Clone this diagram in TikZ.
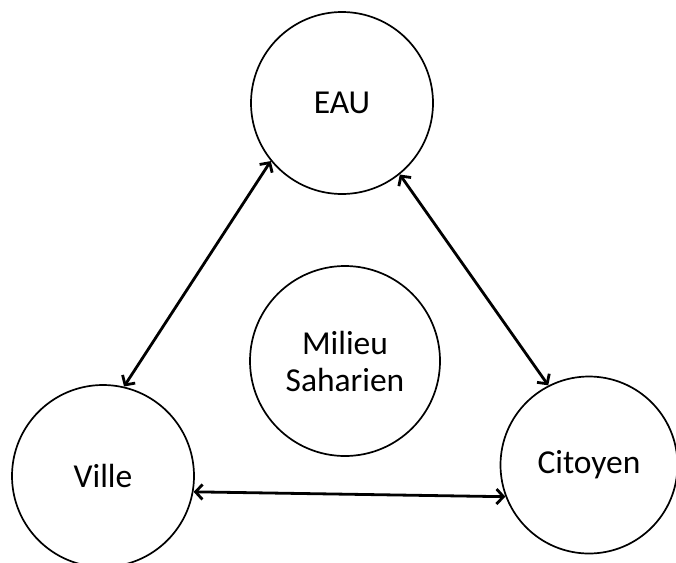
\documentclass[tikz,border=0pt]{standalone}
\usepackage{fontspec}
\setmainfont{Carlito}
\usetikzlibrary{arrows.meta}
\begin{document}
\begin{tikzpicture}[x=1pt,y=-1pt,
  bubble/.style={draw=black,circle,line width=1.7pt,inner sep=0pt,outer sep=0pt,
    align=center,font=\fontsize{33.5}{37}\selectfont},
  link/.style={line width=2.8pt,{Straight Barb[length=7pt,width=15pt]}-{Straight Barb[length=7pt,width=15pt]},shorten <=1pt,shorten >=1pt}]
\useasboundingbox (0,0) rectangle (676,562);
\node[bubble,minimum size=182pt] (eau) at (342,103) {EAU};
\node[bubble,minimum size=190pt] (mil) at (345,361) {Milieu\\Saharien};
\node[bubble,minimum size=182pt] (ville) at (103,476) {Ville};
\node[bubble,minimum size=177pt] (cit) at (589,465) {Citoyen};
\draw[link] (eau.219.8) -- (ville.77.6);
\draw[link] (eau.309) -- (cit.117.7);
\draw[link] (ville.350.4) -- (cit.201.9);
\end{tikzpicture}
\end{document}
